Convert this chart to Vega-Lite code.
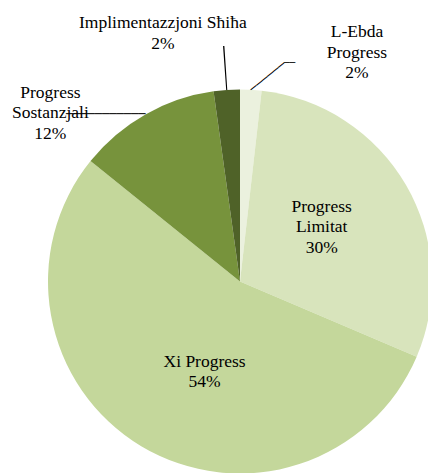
{
  "$schema": "https://vega.github.io/schema/vega-lite/v6.json",
  "width": 376,
  "height": 383,
  "autosize": {"type": "none"},
  "padding": {"left": 52, "top": 90, "right": 0, "bottom": 0},
  "background": "white",
  "config": {"view": {"stroke": null}, "text": {"font": "Liberation Serif, Times New Roman, serif"}},
  "data": {
    "values": [
      {"category": "L-Ebda Progress", "label": "L-Ebda\nProgress\n2%", "value": 1.8, "ord": 1},
      {"category": "Progress Limitat", "label": "Progress\nLimitat\n30%", "value": 29.6, "ord": 2},
      {"category": "Xi Progress", "label": "Xi Progress\n54%", "value": 54.4, "ord": 3},
      {"category": "Progress Sostanzjali", "label": "Progress\nSostanzjali\n12%", "value": 12.0, "ord": 4},
      {"category": "Implimentazzjoni Sħiħa", "label": "Implimentazzjoni Sħiħa\n2%", "value": 2.2, "ord": 5}
    ]
  },
  "transform": [
    {"window": [{"op": "sum", "field": "value", "as": "end"}], "sort": [{"field": "ord"}], "frame": [null, 0]},
    {"calculate": "datum.end - datum.value", "as": "start"},
    {"calculate": "datum.end - datum.value / 2", "as": "mid"}
  ],
  "layer": [
    {
      "mark": {"type": "arc", "radius": 192, "stroke": null},
      "encoding": {
        "theta": {"field": "start", "type": "quantitative", "scale": {"domain": [0, 100]}},
        "theta2": {"field": "end"},
        "color": {
          "field": "category",
          "type": "nominal",
          "scale": {
            "domain": ["L-Ebda Progress", "Progress Limitat", "Xi Progress", "Progress Sostanzjali", "Implimentazzjoni Sħiħa"],
            "range": ["#ebf1de", "#d8e4bc", "#c4d79b", "#77933c", "#4f6228"]
          },
          "legend": null
        }
      }
    },
    {
      "transform": [{"filter": "datum.ord == 2"}],
      "mark": {"type": "text", "radius": 98, "dx": -3, "dy": -25.5, "font": "Liberation Serif, Times New Roman, serif", "fontSize": 17.5, "lineBreak": "\n", "lineHeight": 20.5, "color": "black", "align": "center", "baseline": "middle"},
      "encoding": {
        "theta": {"field": "mid", "type": "quantitative", "scale": {"domain": [0, 100]}},
        "text": {"field": "label"}
      }
    },
    {
      "transform": [{"filter": "datum.ord == 3"}],
      "mark": {"type": "text", "radius": 98, "dx": 15, "dy": -4, "font": "Liberation Serif, Times New Roman, serif", "fontSize": 17.5, "lineBreak": "\n", "lineHeight": 20.5, "color": "black", "align": "center", "baseline": "middle"},
      "encoding": {
        "theta": {"field": "mid", "type": "quantitative", "scale": {"domain": [0, 100]}},
        "text": {"field": "label"}
      }
    },
    {
      "transform": [{"filter": "datum.ord == 5"}],
      "mark": {"type": "text", "radius": 249, "dx": -60, "dy": -10, "font": "Liberation Serif, Times New Roman, serif", "fontSize": 17.5, "lineBreak": "\n", "lineHeight": 20.5, "color": "black", "align": "center", "baseline": "middle"},
      "encoding": {
        "theta": {"field": "mid", "type": "quantitative", "scale": {"domain": [0, 100]}},
        "text": {"field": "label"}
      }
    },
    {
      "transform": [{"filter": "datum.ord == 1"}],
      "mark": {"type": "text", "radius": 229, "dx": 104, "dy": -20.5, "font": "Liberation Serif, Times New Roman, serif", "fontSize": 17.5, "lineBreak": "\n", "lineHeight": 20.5, "color": "black", "align": "center", "baseline": "middle"},
      "encoding": {
        "theta": {"field": "mid", "type": "quantitative", "scale": {"domain": [0, 100]}},
        "text": {"field": "label"}
      }
    },
    {
      "transform": [{"filter": "datum.ord == 4"}],
      "mark": {"type": "text", "radius": 192, "dx": -95, "dy": -21.5, "font": "Liberation Serif, Times New Roman, serif", "fontSize": 17.5, "lineBreak": "\n", "lineHeight": 20.5, "color": "black", "align": "center", "baseline": "middle"},
      "encoding": {
        "theta": {"field": "mid", "type": "quantitative", "scale": {"domain": [0, 100]}},
        "text": {"field": "label"}
      }
    },
    {
      "transform": [
        {"filter": "datum.ord == 5"},
        {"calculate": "datum.mid - 0.045", "as": "a1"},
        {"calculate": "datum.mid + 0.045", "as": "a2"}
      ],
      "mark": {"type": "arc", "radius": 236, "radius2": 192, "color": "black"},
      "encoding": {
        "theta": {"field": "a1", "type": "quantitative", "scale": {"domain": [0, 100]}},
        "theta2": {"field": "a2"}
      }
    },
    {
      "transform": [{"filter": "datum.ord == 4"}],
      "mark": {"type": "text", "text": "───────────", "radius": 192, "font": "DejaVu Sans", "fontSize": 12, "align": "right", "baseline": "middle", "color": "black"},
      "encoding": {
        "theta": {"field": "mid", "type": "quantitative", "scale": {"domain": [0, 100]}}
      }
    },
    {
      "transform": [{"filter": "datum.ord == 1"}],
      "mark": {"type": "text", "text": "──────", "radius": 192, "angle": -39, "font": "DejaVu Sans", "fontSize": 11.8, "align": "left", "baseline": "middle", "color": "black"},
      "encoding": {
        "theta": {"field": "mid", "type": "quantitative", "scale": {"domain": [0, 100]}}
      }
    },
    {
      "transform": [{"filter": "datum.ord == 1"}],
      "mark": {"type": "text", "text": "──", "radius": 192, "dx": 33, "dy": -27, "font": "DejaVu Sans", "fontSize": 9.5, "align": "left", "baseline": "middle", "color": "black"},
      "encoding": {
        "theta": {"field": "mid", "type": "quantitative", "scale": {"domain": [0, 100]}}
      }
    }
  ]
}
